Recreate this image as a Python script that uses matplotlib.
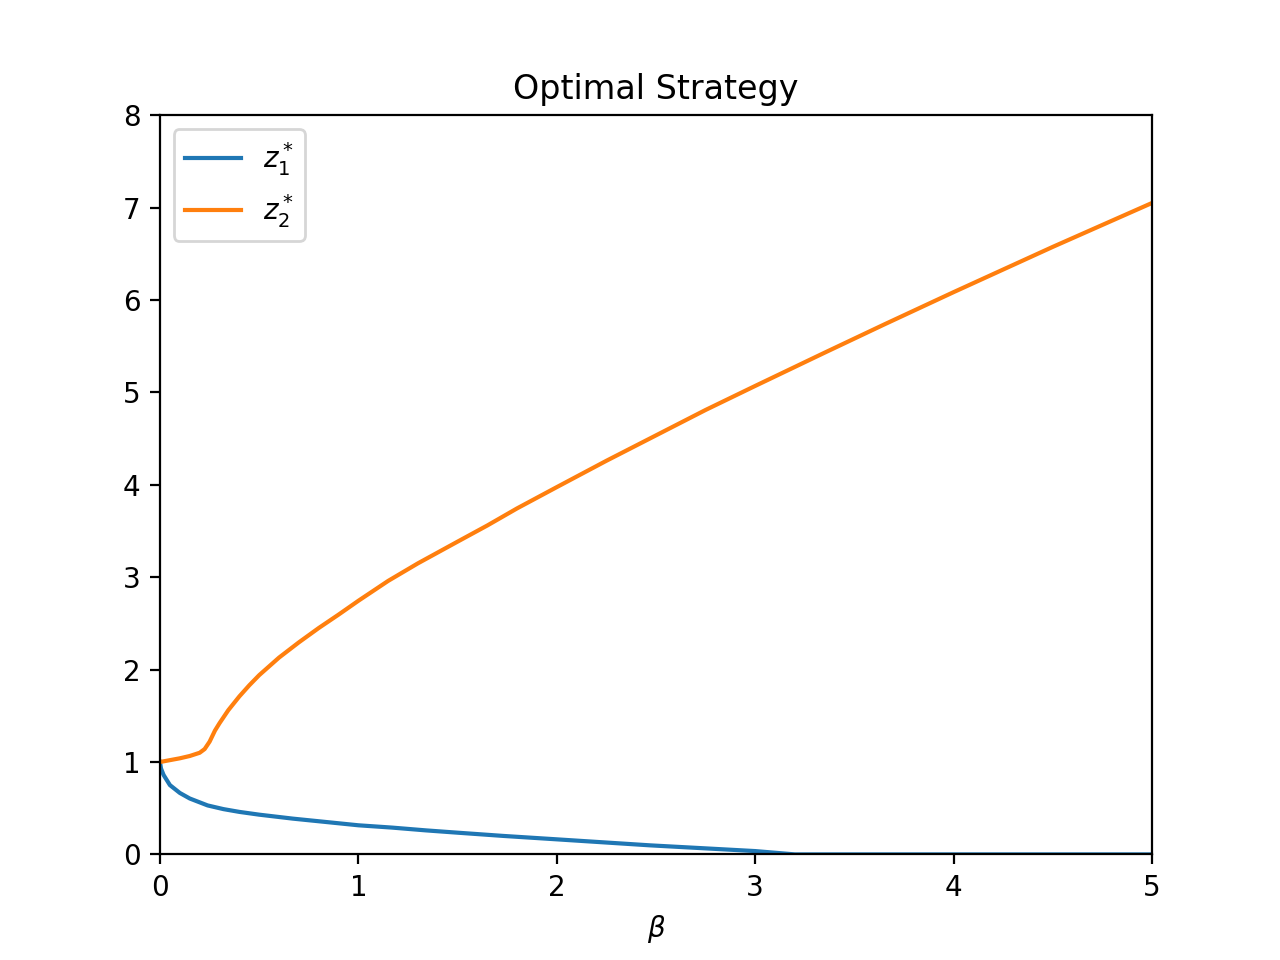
import matplotlib
matplotlib.use("Agg")
import matplotlib.pyplot as plt

# z1* readings
beta_z1 = [0, 0.005, 0.018, 0.05, 0.1, 0.15, 0.24, 0.32, 0.4, 0.5, 0.67, 0.84,
           1.0, 1.17, 1.34, 1.5, 1.73, 2.0, 2.47, 3.0, 3.2, 3.5, 4.0, 4.5, 5.0]
z1 = [1.0, 0.93, 0.86, 0.75, 0.665, 0.605, 0.53, 0.49, 0.46, 0.43, 0.387, 0.35,
      0.315, 0.29, 0.26, 0.235, 0.20, 0.163, 0.098, 0.036, 0.0, 0.0, 0.0, 0.0, 0.0]

# z2* readings
beta_z2 = [0, 0.05, 0.1, 0.15, 0.2, 0.225, 0.25, 0.277, 0.3, 0.344, 0.4, 0.45,
           0.5, 0.6, 0.7, 0.8, 0.9, 1.0, 1.15, 1.3, 1.5, 1.65, 1.8, 2.0, 2.25,
           2.5, 2.75, 3.0, 3.35, 3.65, 4.0, 4.5, 5.0]
z2 = [1.0, 1.02, 1.04, 1.065, 1.10, 1.14, 1.22, 1.34, 1.42, 1.56, 1.71, 1.83,
      1.94, 2.13, 2.295, 2.45, 2.595, 2.745, 2.96, 3.15, 3.385, 3.56, 3.745, 3.975, 4.26,
      4.535, 4.81, 5.07, 5.43, 5.735, 6.085, 6.575, 7.05]

fig, ax = plt.subplots(figsize=(6.4, 4.8), dpi=200)
ax.plot(beta_z1, z1, label=r'$z_1^*$')
ax.plot(beta_z2, z2, label=r'$z_2^*$')
ax.set_xlim(0, 5)
ax.set_ylim(0, 8)
ax.set_xlabel(r'$\beta$')
ax.set_title('Optimal Strategy')
ax.legend(loc='upper left')
fig.savefig('out.png')
